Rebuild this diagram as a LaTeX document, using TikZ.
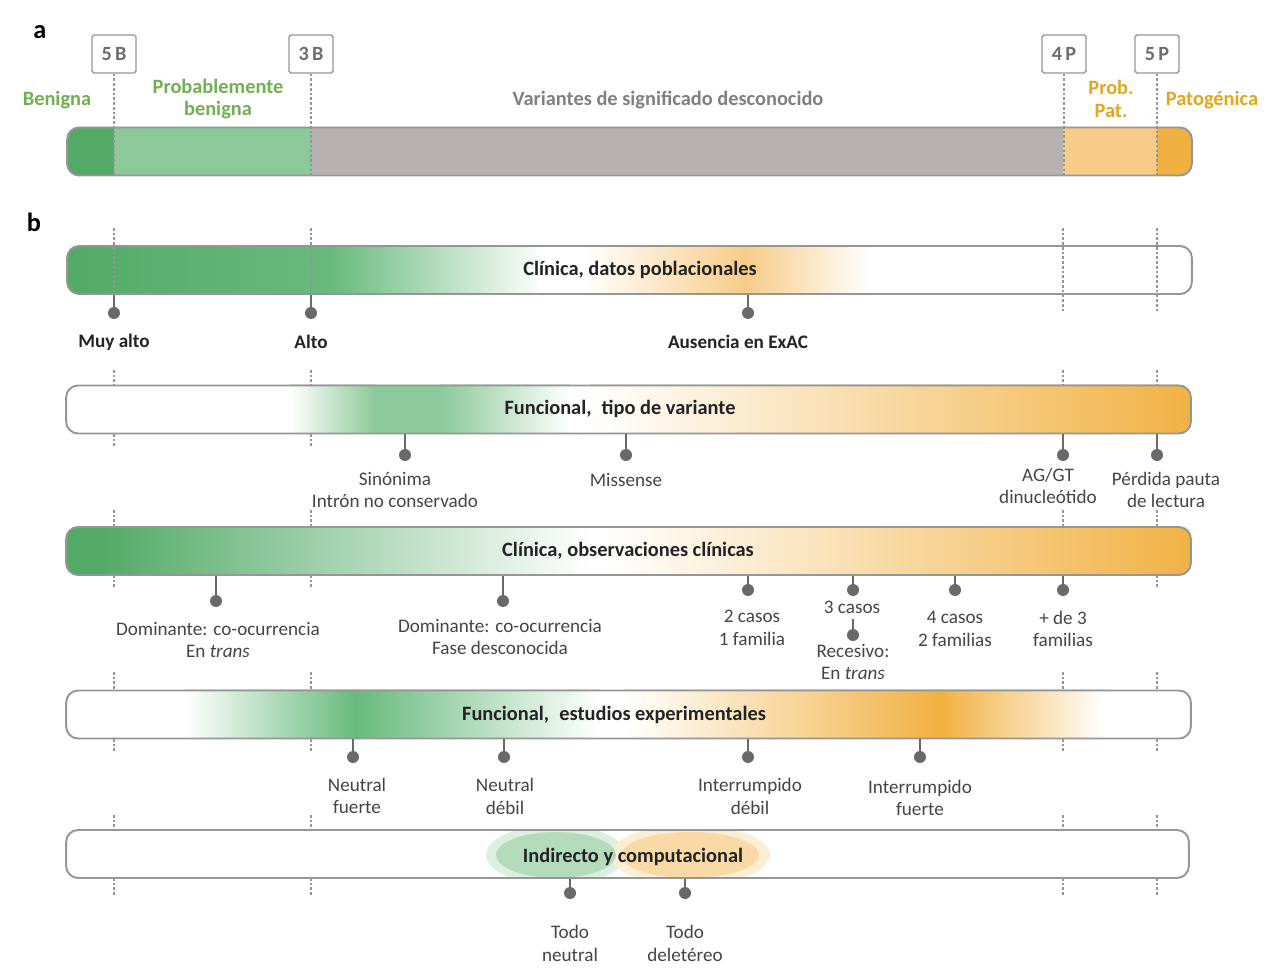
\documentclass[tikz,border=0pt]{standalone}
\usepackage{fontspec}
\setmainfont{Carlito}

\definecolor{gdark}{RGB}{82,170,102}
\definecolor{gmid}{RGB}{104,186,124}
\definecolor{glight}{RGB}{140,201,152}
\definecolor{odark}{RGB}{241,177,66}
\definecolor{olight}{RGB}{247,204,136}
\definecolor{vgray}{RGB}{182,178,177}
\definecolor{rim}{RGB}{150,150,150}
\definecolor{pinc}{RGB}{105,105,105}
\definecolor{tgreen}{RGB}{112,176,82}
\definecolor{torange}{RGB}{226,166,32}
\definecolor{tgray}{RGB}{128,128,128}
\definecolor{tdark}{RGB}{35,35,35}

\begin{document}
\begin{tikzpicture}[x=0.02cm, y=-0.02cm,
    bar/.style={draw=rim, line width=1.1pt, rounded corners=0.24cm,
        minimum width=22.5cm, minimum height=0.96cm, inner sep=0pt},
    bartext/.style={font=\bfseries\fontsize{11.6}{12.8}\selectfont, text=tdark},
    cat/.style={draw=rim, line width=0.8pt, rounded corners=1pt, fill=white,
        minimum width=0.88cm, minimum height=0.76cm, inner sep=0pt,
        font=\bfseries\fontsize{11.5}{12}\selectfont, text=tgray!85!black},
    dot/.style={circle, fill=pinc, inner sep=0pt, minimum size=0.24cm},
    pin/.style={draw=pinc, line width=1pt},
    lab/.style={align=center, text=tdark!85, font=\fontsize{10.9}{13}\selectfont},
    tick/.style={draw=rim, line width=0.6pt, dash pattern=on 1.5pt off 1.2pt}]

    \useasboundingbox (0,0) rectangle (1278,972);

    % a: classification bar
    \node[font=\bfseries\fontsize{15}{16}\selectfont] (pa) at (40,32) {a};
    \begin{scope}
        \clip[rounded corners=0.24cm] (67,127) rectangle (1192,176);
        \fill[gdark] (60,120) rectangle (114,180);
        \fill[glight] (114,120) rectangle (311,180);
        \fill[vgray] (311,120) rectangle (1063,180);
        \fill[olight] (1063,120) rectangle (1157,180);
        \fill[odark] (1157,120) rectangle (1200,180);
    \end{scope}
    \node[bar, minimum width=22.5cm] (abar) at (629.5,151.5) {};

    \node[cat] (c5b) at (114,54) {5\,B};
    \node[cat] (c3b) at (311,54) {3\,B};
    \node[cat] (c4p) at (1064,54) {4\,P};
    \node[cat] (c5p) at (1157,54) {5\,P};
    \foreach \c in {c5b,c3b,c4p,c5p}
        \draw[tick] (\c.south) -- (\c.south |- abar.south);

    \node[bartext, text=tgreen] (benigna) at (57,100) {Benigna};
    \node[bartext, text=tgreen, align=center] (probben) at (218,99) {Probablemente\\benigna};
    \node[bartext, text=tgray] (vsd) at (668,100) {Variantes de significado desconocido};
    \node[bartext, text=torange, align=center] (probpat) at (1111,99) {Prob.\\Pat.};
    \node[bartext, text=torange] (patog) at (1212,100) {Patogénica};

    % b: evidence bars
    \node[font=\bfseries\fontsize{15}{16}\selectfont] (pb) at (34,222) {b};

    % bar 1
    \begin{scope}
        \clip[rounded corners=0.24cm] (67,246) rectangle (1192,294);
        \fill[left color=gdark, right color=gmid] (60,240) rectangle (330,300);
        \fill[left color=gmid, right color=white] (330,240) rectangle (545,300);
        \fill[left color=white, right color=olight] (585,240) rectangle (745,300);
        \fill[left color=olight, right color=white] (745,240) rectangle (870,300);
    \end{scope}
    \node[bar] (bar1) at (629.5,270) {};
    \node[bartext] (t1) at (640,270) {Clínica, datos poblacionales};
    \draw[tick] (114,228) -- (114,294);
    \draw[tick] (311,228) -- (311,294);
    \draw[tick] (1063,228) -- (1063,312);
    \draw[tick] (1157,228) -- (1157,312);

    \node[dot] (p11) at (114,313) {};
    \node[dot] (p12) at (311,313) {};
    \node[dot] (p13) at (748,313) {};
    \foreach \p in {p11,p12,p13}
        \draw[pin] (\p) -- (\p |- bar1.south);
    \node[lab, text=tdark, font=\bfseries\fontsize{10.9}{13}\selectfont] (l11) at (114,342) {Muy alto};
    \node[lab, text=tdark, font=\bfseries\fontsize{10.9}{13}\selectfont] (l12) at (311,342) {Alto};
    \node[lab, text=tdark, font=\bfseries\fontsize{10.9}{13}\selectfont] (l13) at (738,342) {Ausencia en ExAC};

    % bar 2
    \begin{scope}
        \clip[rounded corners=0.24cm] (66,385) rectangle (1191,434);
        \fill[left color=white, right color=glight] (290,380) rectangle (376,440);
        \fill[glight] (375,380) rectangle (441,440);
        \fill[left color=glight, right color=white] (440,380) rectangle (570,440);
        \fill[left color=white, right color=odark] (590,380) rectangle (1200,440);
    \end{scope}
    \node[bar] (bar2) at (628.5,409.5) {};
    \node[bartext] (t2) at (620,409) {Funcional,\enspace tipo de variante};
    \foreach \x in {114,311,1063,1157}
        \draw[tick] (\x,370) -- (\x,385);
    \foreach \x in {114,311}
        \draw[tick] (\x,434) -- (\x,446);

    \node[dot] (p21) at (405,455) {};
    \node[dot] (p22) at (626,455) {};
    \node[dot] (p23) at (1063,455) {};
    \node[dot] (p24) at (1157,455) {};
    \foreach \p in {p21,p22,p23,p24}
        \draw[pin] (\p) -- (\p |- bar2.south);
    \node[lab] (l21) at (395,490) {Sinónima\\Intrón no conservado};
    \node[lab] (l22) at (626,480) {Missense};
    \node[lab] (l23) at (1048,486) {AG/GT\\dinucleótido};
    \node[lab] (l24) at (1166,490) {Pérdida pauta\\de lectura};

    % bar 3
    \begin{scope}
        \clip[rounded corners=0.24cm] (66,527) rectangle (1191,575);
        \fill[gdark] (60,520) rectangle (100,580);
        \fill[left color=gdark, right color=white] (99,520) rectangle (590,580);
        \fill[left color=white, right color=odark] (605,520) rectangle (1200,580);
    \end{scope}
    \node[bar] (bar3) at (628.5,551) {};
    \node[bartext] (t3) at (628,551) {Clínica, observaciones clínicas};
    \foreach \x in {114,311,1063,1157}
        \draw[tick] (\x,510) -- (\x,527);
    \foreach \x in {114,311,1157}
        \draw[tick] (\x,575) -- (\x,588);

    \node[dot] (p31) at (216,601) {};
    \node[dot] (p32) at (503,601) {};
    \node[dot] (p33) at (748,590) {};
    \node[dot] (p34) at (853,590) {};
    \node[dot] (p35) at (955,590) {};
    \node[dot] (p36) at (1063,590) {};
    \foreach \p in {p31,p32,p33,p34,p35,p36}
        \draw[pin] (\p) -- (\p |- bar3.south);
    \node[lab] (l31) at (218,640) {Dominante: co-ocurrencia\\En \textit{trans}};
    \node[lab] (l32) at (500,637) {Dominante: co-ocurrencia\\Fase desconocida};
    \node[lab] (l33) at (752,628) {2 casos\\1 familia};
    \node[lab] (l34) at (852,607) {3 casos};
    \node[dot] (p37) at (853,635) {};
    \draw[pin] (p37) -- (l34.south -| p37);
    \node[lab] (l37) at (853,662) {Recesivo:\\En \textit{trans}};
    \node[lab] (l35) at (955,629) {4 casos\\2 familias};
    \node[lab] (l36) at (1063,629) {+ de 3\\familias};

    % bar 4
    \begin{scope}
        \clip[rounded corners=0.24cm] (66,690) rectangle (1191,739);
        \fill[left color=white, right color=gmid] (185,680) rectangle (356,750);
        \fill[left color=gmid, right color=white] (355,680) rectangle (600,750);
        \fill[left color=white, right color=odark] (625,680) rectangle (941,750);
        \fill[left color=odark, right color=white] (940,680) rectangle (1105,750);
    \end{scope}
    \node[bar] (bar4) at (628.5,714.5) {};
    \node[bartext] (t4) at (614,715) {Funcional,\enspace estudios experimentales};
    \foreach \x in {114,311,1063,1157} {
        \draw[tick] (\x,672) -- (\x,690);
        \draw[tick] (\x,739) -- (\x,752);
    }

    \node[dot] (p41) at (353,757) {};
    \node[dot] (p42) at (504,757) {};
    \node[dot] (p43) at (748,757) {};
    \node[dot] (p44) at (920,757) {};
    \foreach \p in {p41,p42,p43,p44}
        \draw[pin] (\p) -- (\p |- bar4.south);
    \node[lab] (l41) at (357,796) {Neutral\\fuerte};
    \node[lab] (l42) at (505,796) {Neutral\\débil};
    \node[lab] (l43) at (750,796) {Interrumpido\\débil};
    \node[lab] (l44) at (920,798) {Interrumpido\\fuerte};

    % bar 5
    \begin{scope}
        \clip[rounded corners=0.24cm] (66,830) rectangle (1189,878);
        \fill[glight!30] (556,855) ellipse (70 and 30);
        \fill[olight!35] (690,855) ellipse (80 and 30);
        \fill[glight!65] (556,855) ellipse (60 and 23);
        \fill[olight!75] (690,855) ellipse (69 and 23);
    \end{scope}
    \node[bar, minimum width=22.46cm] (bar5) at (627.5,854) {};
    \node[bartext] (t5) at (633,857) {Indirecto y computacional};
    \foreach \x in {114,311,1063,1157} {
        \draw[tick] (\x,815) -- (\x,830);
        \draw[tick] (\x,878) -- (\x,895);
    }

    \node[dot] (p51) at (570,893) {};
    \node[dot] (p52) at (685,893) {};
    \foreach \p in {p51,p52}
        \draw[pin] (\p) -- (\p |- bar5.south);
    \node[lab] (l51) at (570,943) {Todo\\neutral};
    \node[lab] (l52) at (685,943) {Todo\\deletéreo};

\end{tikzpicture}
\end{document}
